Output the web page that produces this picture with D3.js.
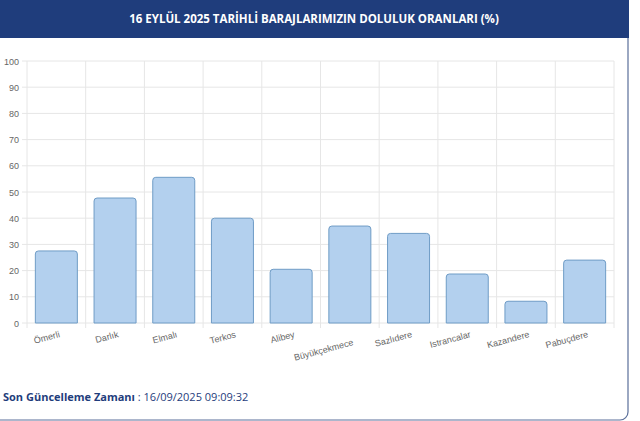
<!DOCTYPE html>
<html><head><meta charset="utf-8">
<script src="https://cdn.jsdelivr.net/npm/d3@7"></script>
<style>body{margin:0;background:#fff;font-family:"Open Sans",sans-serif}</style>
</head><body>
<svg id="c" width="640" height="421"></svg>
<script>
const categories=["Ömerli","Darlık","Elmalı","Terkos","Alibey","Büyükçekmece","Sazlıdere","Istrancalar","Kazandere","Pabuçdere"];
const values=[27.5,47.7,55.6,40,20.5,37,34.2,18.7,8.3,24];
const yTicks=[0,10,20,30,40,50,60,70,80,90,100];
const svg=d3.select("#c");
svg.append("rect").attr("x",-10).attr("y",-10).attr("width",638).attr("height",430).attr("rx",8)
 .attr("fill","#fff").attr("stroke","#5a6f9a").attr("stroke-width",1.2);
svg.append("rect").attr("x",0).attr("y",0).attr("width",629).attr("height",38).attr("fill","#1f3d7c");
svg.append("text").attr("x",314).attr("y",23).attr("text-anchor","middle").attr("fill","#fff")
 .attr("font-size",11.5).attr("font-weight","bold").text("16 EYLÜL 2025 TARİHLİ BARAJLARIMIZIN DOLULUK ORANLARI (%)");
const x=d3.scaleBand().domain(categories).range([27,614]);
const y=d3.scaleLinear().domain([0,100]).range([323,61]);
const g=svg.append("g");
g.selectAll(".h").data(yTicks).join("line").attr("x1",22).attr("x2",614)
 .attr("y1",d=>y(d)).attr("y2",d=>y(d)).attr("stroke","#e6e6e6");
const bounds=categories.map(c=>x(c)).concat([614]);
g.selectAll(".v").data(bounds).join("line").attr("x1",d=>d).attr("x2",d=>d)
 .attr("y1",61).attr("y2",328).attr("stroke","#e6e6e6");
g.selectAll(".yl").data(yTicks).join("text").attr("x",19).attr("y",d=>y(d)+3.5)
 .attr("text-anchor","end").attr("font-size",9).attr("fill","#666").attr("font-family","Liberation Sans, Arial").text(d=>d);
const bw=42;
g.selectAll(".b").data(values).join("path")
 .attr("d",(d,i)=>{const cx=x(categories[i])+x.bandwidth()/2,x0=cx-bw/2,x1=cx+bw/2,yt=y(d),yb=y(0),r=3;
   return `M${x0},${yb}V${yt+r}Q${x0},${yt} ${x0+r},${yt}H${x1-r}Q${x1},${yt} ${x1},${yt+r}V${yb}Z`;})
 .attr("fill","#b3d0ee").attr("stroke","#6f9cc6").attr("stroke-width",1);
g.selectAll(".xl").data(categories).join("text")
 .attr("transform",(d,i)=>{const cx=x(d)+x.bandwidth()/2; return `translate(${cx+4},${d==="Büyükçekmece"?345:337}) rotate(-15)`;})
 .attr("text-anchor","end").attr("font-size",9).attr("fill","#666").attr("font-family","Liberation Sans, Arial").text(d=>d);
const t=svg.append("text").attr("x",3).attr("y",401).attr("font-size",11).attr("fill","#1f3d7c");
t.append("tspan").attr("font-weight","bold").text("Son Güncelleme Zamanı");
t.append("tspan").text(" : 16/09/2025 09:09:32");
</script></body></html>
